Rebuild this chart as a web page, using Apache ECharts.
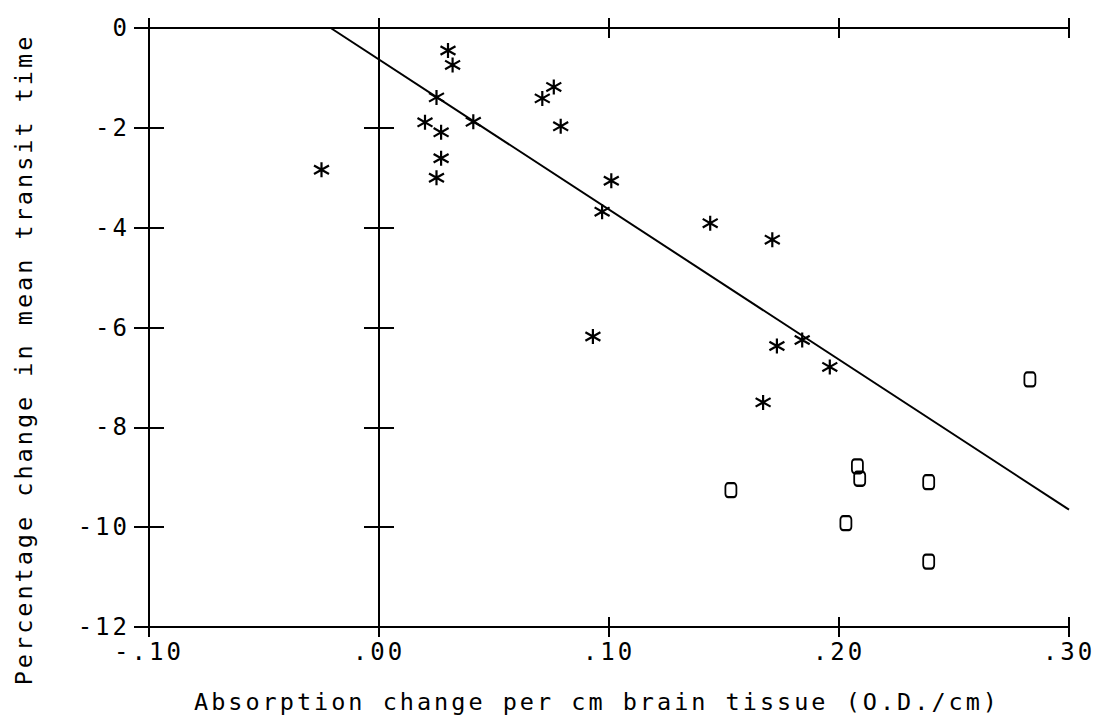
<!DOCTYPE html>
<html>
<head>
<meta charset="utf-8">
<script src="https://cdn.jsdelivr.net/npm/echarts@6/dist/echarts.min.js"></script>
<style>
  html, body { margin: 0; padding: 0; background: #fff; }
  #main { width: 1101px; height: 724px; }
  #main text { letter-spacing: 3px; }
</style>
</head>
<body>
<div id="main"></div>
<script>
// asterisks
const starX = [-0.025, 0.030, 0.032, 0.025, 0.020, 0.027, 0.041, 0.027, 0.025,
  0.071, 0.076, 0.079, 0.101, 0.097, 0.093, 0.144, 0.171, 0.167, 0.173, 0.184, 0.196];
const starY = [-2.84, -0.45, -0.74, -1.39, -1.89, -2.09, -1.88, -2.61, -3.00,
  -1.41, -1.18, -1.97, -3.06, -3.68, -6.18, -3.91, -4.24, -7.50, -6.37, -6.25, -6.79];

// open markers
const ohX = [0.153, 0.208, 0.209, 0.239, 0.203, 0.239, 0.283];
const ohY = [-9.26, -8.78, -9.03, -9.10, -9.92, -10.69, -7.04];

// fitted line
const lineX = [-0.021, 0.30];
const lineY = [0, -9.65];

const xTicks = [-0.1, 0, 0.1, 0.2, 0.3];
const xTickLabels = ['-.10', '.00', '.10', '.20', '.30'];
const yTicks = [-12, -10, -8, -6, -4, -2, 0];
const yTickLabels = ['-12', '-10', '-8', '-6', '-4', '-2', '0'];

const xTitle = 'Absorption change per cm brain tissue (O.D./cm)';
const yTitle = 'Percentage change in mean transit time';

const font = 'DejaVu Sans Mono';
const ink = '#000';

function pick(ticks, labels, v) {
  let best = 0;
  ticks.forEach((t, i) => { if (Math.abs(t - v) < Math.abs(ticks[best] - v)) best = i; });
  return labels[best];
}

function xAx(pos, inside, extra) {
  return Object.assign({
    type: 'value', position: pos, min: -0.1, max: 0.3, interval: 0.1,
    axisLine: { show: true, onZero: false, lineStyle: { color: ink, width: 2 } },
    axisTick: { show: true, inside: inside, length: 10, lineStyle: { color: ink, width: 2 } },
    axisLabel: { show: false },
    splitLine: { show: false }
  }, extra || {});
}

function yAx(offset, inside, extra) {
  return Object.assign({
    type: 'value', position: 'left', offset: offset, min: -12, max: 0, interval: 2,
    axisLine: { show: true, onZero: false, lineStyle: { color: ink, width: 2 } },
    axisTick: { show: true, inside: inside, length: 15, lineStyle: { color: ink, width: 2 } },
    axisLabel: { show: false },
    splitLine: { show: false }
  }, extra || {});
}

const chart = echarts.init(document.getElementById('main'), null, { renderer: 'svg' });

chart.setOption({
  backgroundColor: '#fff',
  animation: false,
  grid: { left: 149, right: 32, top: 28, bottom: 97 },
  xAxis: [
    xAx('bottom', true, {
      axisLabel: {
        show: true, margin: 13, color: ink, fontFamily: font, fontSize: 24,
        formatter: v => pick(xTicks, xTickLabels, v)
      },
      name: xTitle, nameLocation: 'middle', nameGap: 63,
      nameTextStyle: { color: ink, fontFamily: font, fontSize: 23.5, padding: [0, 24, 0, 0] }
    }),
    xAx('bottom', false),
    xAx('top', true),
    xAx('top', false)
  ],
  yAxis: [
    yAx(0, false, {
      axisLabel: {
        show: true, margin: 19, color: ink, fontFamily: font, fontSize: 24,
        formatter: v => pick(yTicks, yTickLabels, v)
      },
      name: yTitle, nameLocation: 'middle', nameGap: 113,
      nameTextStyle: { color: ink, fontFamily: font, fontSize: 23.5, padding: [0, 64, 0, 0] }
    }),
    yAx(0, true),
    yAx(-230, false),
    yAx(-230, true)
  ],
  series: [
    {
      type: 'line', silent: true, xAxisIndex: 0, yAxisIndex: 0,
      data: lineX.map((x, i) => [x, lineY[i]]),
      showSymbol: false, symbol: 'none',
      lineStyle: { color: ink, width: 2 }
    },
    {
      type: 'scatter', silent: true, xAxisIndex: 0, yAxisIndex: 0,
      data: starX.map((x, i) => [x, starY[i]]),
      symbol: 'path://M7 0 L7 14 M0 3 L14 11 M0 11 L14 3',
      symbolSize: 15,
      itemStyle: { color: 'rgba(0,0,0,0)', borderColor: ink, borderWidth: 2.2, opacity: 1 }
    },
    {
      type: 'scatter', silent: true, xAxisIndex: 0, yAxisIndex: 0,
      data: ohX.map((x, i) => [x, ohY[i]]),
      symbol: 'roundRect',
      symbolSize: [11, 14],
      itemStyle: { color: 'rgba(0,0,0,0)', borderColor: ink, borderWidth: 2, opacity: 1 }
    }
  ]
});
</script>
</body>
</html>
